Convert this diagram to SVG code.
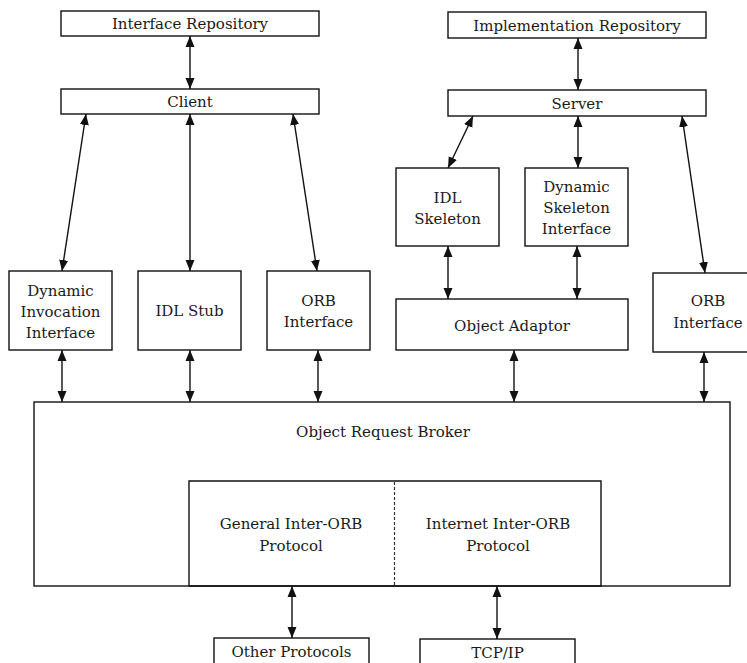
<svg xmlns="http://www.w3.org/2000/svg" width="747" height="663" viewBox="0 0 747 663">
  <style>
    .box { fill: #fff; stroke: #111; stroke-width: 1.4; }
    .edge { fill: none; stroke: #111; stroke-width: 1.4; }
    .lbl { font-family: "DejaVu Serif", "Liberation Serif", serif; font-size: 15px; fill: #1a1a1a; text-anchor: middle; }
    .link { stroke: #111; stroke-width: 1.4; fill: none; marker-start: url(#head); marker-end: url(#head); }
    .split { stroke: #333; stroke-width: 1.2; stroke-dasharray: 3 2; fill: none; }
  </style>
  <defs>
    <marker id="head" viewBox="0 0 11 10" refX="11" refY="5" markerWidth="11" markerHeight="10" markerUnits="userSpaceOnUse" orient="auto-start-reverse">
      <path d="M0,0.5 L11,5 L0,9.5 Z" fill="#111"/>
    </marker>
  </defs>
  <rect width="747" height="663" fill="#fff"/>

  <!-- client side -->
  <g id="interface-repository">
    <rect class="box" x="61" y="11" width="258" height="25"/>
    <text class="lbl" x="190" y="29">Interface Repository</text>
  </g>
  <g id="client">
    <rect class="box" x="61" y="89" width="258" height="25"/>
    <text class="lbl" x="190" y="107">Client</text>
  </g>
  <g id="dii">
    <rect class="box" x="9" y="271" width="103" height="79"/>
    <text class="lbl" x="60.5" y="296">Dynamic</text>
    <text class="lbl" x="60.5" y="317">Invocation</text>
    <text class="lbl" x="60.5" y="338">Interface</text>
  </g>
  <g id="idl-stub">
    <rect class="box" x="138" y="271" width="103" height="79"/>
    <text class="lbl" x="189.5" y="316">IDL Stub</text>
  </g>
  <g id="orb-interface-client">
    <rect class="box" x="267" y="271" width="103" height="79"/>
    <text class="lbl" x="318.5" y="306">ORB</text>
    <text class="lbl" x="318.5" y="327">Interface</text>
  </g>

  <!-- server side -->
  <g id="implementation-repository">
    <rect class="box" x="448" y="12" width="258" height="26"/>
    <text class="lbl" x="577" y="31">Implementation Repository</text>
  </g>
  <g id="server">
    <rect class="box" x="448" y="90" width="258" height="26"/>
    <text class="lbl" x="577" y="109">Server</text>
  </g>
  <g id="idl-skeleton">
    <rect class="box" x="396" y="168" width="103" height="78"/>
    <text class="lbl" x="447.5" y="203">IDL</text>
    <text class="lbl" x="447.5" y="224">Skeleton</text>
  </g>
  <g id="dsi">
    <rect class="box" x="525" y="168" width="103" height="78"/>
    <text class="lbl" x="576.5" y="192">Dynamic</text>
    <text class="lbl" x="576.5" y="213">Skeleton</text>
    <text class="lbl" x="576.5" y="234">Interface</text>
  </g>
  <g id="object-adaptor">
    <rect class="box" x="396" y="299" width="232" height="51"/>
    <text class="lbl" x="512" y="331">Object Adaptor</text>
  </g>
  <g id="orb-interface-server">
    <rect class="box" x="653" y="273" width="110" height="79"/>
    <text class="lbl" x="708" y="306">ORB</text>
    <text class="lbl" x="708" y="328">Interface</text>
  </g>

  <!-- broker core with its protocol blocks -->
  <g id="orb">
    <rect class="box" x="34" y="402" width="696" height="184"/>
    <text class="lbl" x="383" y="437">Object Request Broker</text>
  </g>
  <g id="giop">
    <path class="edge" d="M394,481 H189 V586 H394"/>
    <text class="lbl" x="291" y="529">General Inter-ORB</text>
    <text class="lbl" x="291" y="551">Protocol</text>
  </g>
  <g id="iiop">
    <path class="edge" d="M394,481 H601 V586 H394"/>
    <text class="lbl" x="498" y="529">Internet Inter-ORB</text>
    <text class="lbl" x="498" y="551">Protocol</text>
  </g>
  <line class="split" x1="394.5" y1="482" x2="394.5" y2="585"/>
  <g id="other-protocols">
    <rect class="box" x="214" y="638" width="155" height="40"/>
    <text class="lbl" x="291.5" y="657">Other Protocols</text>
  </g>
  <g id="tcp-ip">
    <rect class="box" x="420" y="639" width="155" height="40"/>
    <text class="lbl" x="497.5" y="658">TCP/IP</text>
  </g>

  <!-- connectors -->
  <g id="connectors">
    <line class="link" x1="190" y1="36" x2="190" y2="89"/>
    <line class="link" x1="578" y1="38" x2="578" y2="90"/>
    <line class="link" x1="86" y1="114" x2="62" y2="271"/>
    <line class="link" x1="190" y1="114" x2="190" y2="271"/>
    <line class="link" x1="293" y1="114" x2="317" y2="271"/>
    <line class="link" x1="473" y1="116" x2="448" y2="168"/>
    <line class="link" x1="578" y1="116" x2="578" y2="168"/>
    <line class="link" x1="682" y1="116" x2="705" y2="273"/>
    <line class="link" x1="448" y1="246" x2="448" y2="299"/>
    <line class="link" x1="577" y1="246" x2="577" y2="299"/>
    <line class="link" x1="62" y1="350" x2="62" y2="402"/>
    <line class="link" x1="190" y1="350" x2="190" y2="402"/>
    <line class="link" x1="318" y1="350" x2="318" y2="402"/>
    <line class="link" x1="514" y1="350" x2="514" y2="402"/>
    <line class="link" x1="704" y1="352" x2="704" y2="402"/>
    <line class="link" x1="292" y1="586" x2="292" y2="638"/>
    <line class="link" x1="497" y1="586" x2="497" y2="639"/>
  </g>
</svg>
